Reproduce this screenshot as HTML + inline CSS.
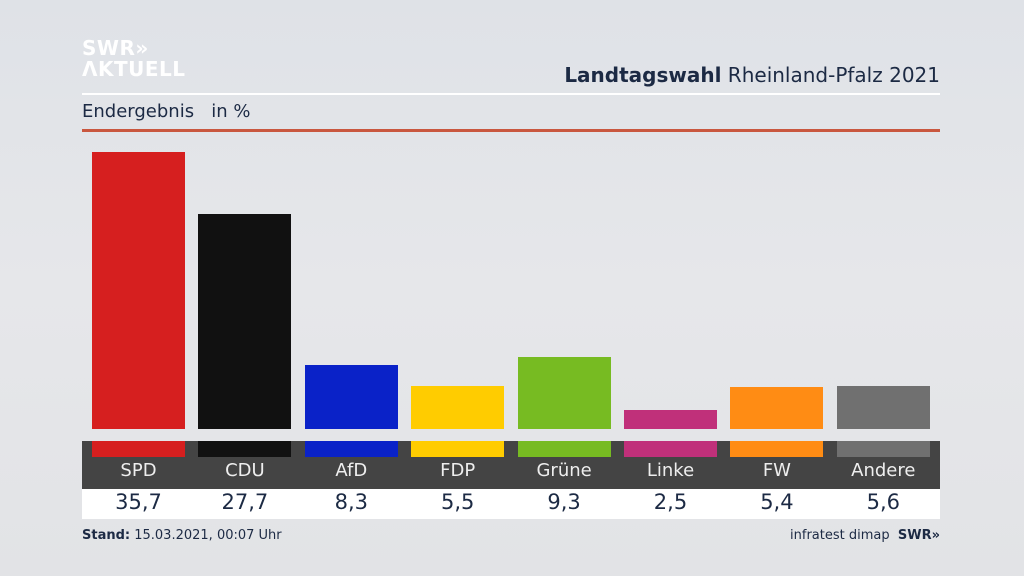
<!DOCTYPE html>
<html><head><meta charset="utf-8"><style>
body{margin:0;width:1024px;height:576px;overflow:hidden;background:linear-gradient(180deg,#dfe2e7,#e6e7ea 50%,#e2e3e6);font-family:"DejaVu Sans","Liberation Sans",sans-serif;position:relative;color:#1c2a44}
.a{position:absolute}
</style></head><body>
<div class="a" style="left:82px;top:38px;color:#fff;font-weight:bold;font-size:20px;line-height:21px;letter-spacing:0.5px">SWR»<br>ΛKTUELL</div>
<div class="a" style="right:84px;top:63px;font-size:20px;white-space:nowrap"><b>Landtagswahl</b> Rheinland-Pfalz 2021</div>
<div class="a" style="left:82px;top:93px;width:858px;height:2px;background:#fff"></div>
<div class="a" style="left:82px;top:101px;font-size:18px">Endergebnis&nbsp;&nbsp; in %</div>
<div class="a" style="left:82px;top:129px;width:858px;height:3px;background:#c9573f"></div>
<div class="a" style="left:82px;top:441px;width:858px;height:48px;background:#444"></div>
<div class="a" style="left:82px;top:489px;width:858px;height:30px;background:#fff"></div>
<div id="chart"></div>
<div class="a" style="left:82px;top:528px;font-size:13px"><b>Stand:</b> 15.03.2021, 00:07 Uhr</div>
<div class="a" style="right:84px;top:528px;font-size:13px;white-space:nowrap">infratest dimap&nbsp; <b>SWR»</b></div>
<script>
const parties=["SPD","CDU","AfD","FDP","Grüne","Linke","FW","Andere"];
const values=[35.7,27.7,8.3,5.5,9.3,2.5,5.4,5.6];
const labels=["35,7","27,7","8,3","5,5","9,3","2,5","5,4","5,6"];
const colors=["#d61f1f","#111111","#0a22c8","#ffcc00","#77bb22","#c0307a","#ff8c14","#707070"];
const base=429,scale=7.76,x0=92,step=106.4,w=93;
const y=v=>base-v*scale, x=i=>x0+i*step;
const c=document.getElementById('chart');
parties.forEach((p,i)=>{
 const b=document.createElement('div');b.className='a';
 
 
 b.style.cssText=`left:${x(i)}px;top:${y(values[i])}px;width:${w}px;height:${base-y(values[i])}px;background:${colors[i]}`;
 c.appendChild(b);
 const s=document.createElement('div');s.className='a';
 
 
 s.style.cssText=`left:${x(i)}px;top:441px;width:${w}px;height:16px;background:${colors[i]}`;
 c.appendChild(s);
 const l=document.createElement('div');l.className='a';
 
 
 l.style.cssText=`left:${x(i)}px;top:460px;width:${w}px;text-align:center;color:#eee;font-size:18px`;
 l.textContent=p;c.appendChild(l);
 const v=document.createElement('div');v.className='a';
 
 
 v.style.cssText=`left:${x(i)}px;top:490px;width:${w}px;text-align:center;color:#1c2a44;font-size:21px`;
 v.textContent=labels[i];c.appendChild(v);
});
</script>
</body></html>
